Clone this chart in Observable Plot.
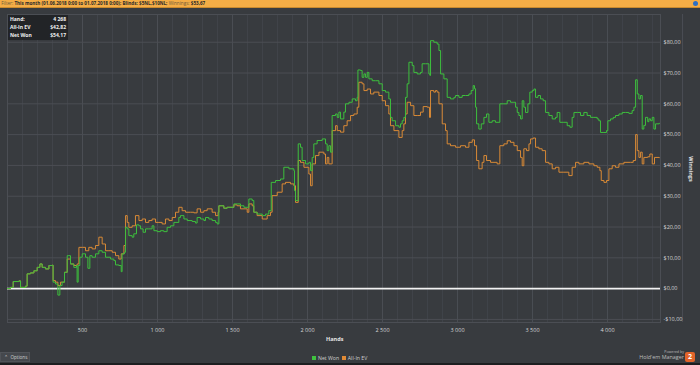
<!DOCTYPE html>
<html>
<head>
<meta charset="utf-8">
<script src="https://cdn.jsdelivr.net/npm/d3@7"></script>
<script src="https://cdn.jsdelivr.net/npm/@observablehq/plot@0.6"></script>
<style>
  html, body { margin: 0; padding: 0; background: #383b3f; }
  #wrap { position: relative; width: 700px; height: 365px; overflow: hidden; background: #383b3f; font-family: "Open Sans", "Liberation Sans", sans-serif; }
  #chart { position: absolute; left: 0; top: 0; }
  #header { position: absolute; left: 0; top: 0; width: 700px; height: 7px; background: #f4ad46; border-bottom: 1px solid #c98a2e; font-size: 4.6px; line-height: 7px; color: #2a2a2a; white-space: nowrap; }
  #header span.k { color: #6b5a3a; }
  #header b { font-weight: 700; }
  #hicon { position: absolute; right: 2px; top: 1px; width: 5px; height: 5px; border-radius: 50%; background: #2d6fc4; }
  #tip { position: absolute; left: 8px; top: 15px; width: 60px; height: 25px; background: #222427; font-size: 5px; font-weight: 700; color: #f0f0f0; }
  #tip div { position: absolute; left: 2px; right: 2px; height: 7px; line-height: 7px; }
  #tip span.v { position: absolute; right: 0; }
  .ax { position: absolute; font-size: 5.5px; font-weight: 700; color: #e6e6e6; white-space: nowrap; }
  #legend { position: absolute; top: 355px; left: 312px; font-size: 5.2px; color: #cfcfcf; white-space: nowrap; line-height: 6px; }
  #legend i { display: inline-block; width: 4px; height: 4px; margin-right: 2px; vertical-align: -0.3px; }
  #opts { position: absolute; left: 0; top: 352px; width: 30px; height: 10px; background: #45484d; border: 1px solid #505358; box-sizing: border-box; font-size: 4.6px; line-height: 8px; color: #cfcfcf; padding-left: 3px; white-space: nowrap; }
  #logo { position: absolute; right: 16px; top: 350px; text-align: right; color: #bdbdbd; white-space: nowrap; }
  #logo .p { font-size: 3.6px; line-height: 4px; }
  #logo .m { font-size: 5.4px; line-height: 7px; }
  #badge { position: absolute; right: 5px; top: 352px; width: 10px; height: 10px; border-radius: 2px; background: #e2642a; color: #fff; font-size: 7px; font-weight: 700; line-height: 10px; text-align: center; }
  #bottom { position: absolute; left: 0; top: 363px; width: 700px; height: 2px; background: #1d1e20; }
</style>
</head>
<body>
<div id="wrap">
  <div id="chart"></div>
  <div id="header">&nbsp;<span class="k">Filter:</span> <b>This month (01.06.2018 0:00 to 01.07.2018 0:00); Blinds: $5NL,$10NL;</b> <span class="k">Winnings:</span> <b>$53,67</b><div id="hicon"></div></div>
  <div id="tip">
    <div style="top:1px">Hand:<span class="v">4 268</span></div>
    <div style="top:9px">All-In EV<span class="v">$42,82</span></div>
    <div style="top:17px">Net Won<span class="v">$54,17</span></div>
  </div>
  <div class="ax" id="xlab" style="left:326px; top:335px;">Hands</div>
  <div class="ax" id="ylab" style="left:678px; top:165px; transform: rotate(90deg); transform-origin: center;">Winnings</div>
  <div id="legend"><i style="background:#3fc23f"></i>Net Won&nbsp;&nbsp;<i style="background:#e08a35"></i>All-In EV</div>
  <div id="opts">&#8963;&nbsp;&nbsp;Options</div>
  <div id="logo"><div class="p">Powered by</div><div class="m">Hold'em Manager</div></div>
  <div id="badge">2</div>
  <div id="bottom"></div>
</div>
<script>
// ---- Data ----
const netWonHands = [0,20,38,76,87,120,131,153,176,198,216,231,253,276,298,304,320,336,349,364,380,398,409,420,442,460,464,471,482,498,520,536,549,564,587,609,631,653,687,709,720,742,758,764,780,787,798,809,831,842,860,876,887,904,920,942,964,976,998,1020,1042,1064,1087,1109,1142,1153,1176,1198,1231,1253,1264,1287,1309,1320,1342,1364,1387,1398,1409,1442,1464,1509,1531,1553,1576,1609,1631,1642,1664,1698,1720,1742,1758,1787,1820,1842,1876,1909,1913,1920,1938,1953,1964,1987,2009,2020,2031,2042,2064,2098,2120,2131,2142,2153,2164,2187,2198,2209,2220,2242,2253,2276,2298,2320,2331,2336,2353,2364,2376,2387,2398,2409,2431,2453,2476,2498,2520,2542,2553,2564,2587,2609,2620,2631,2642,2653,2664,2676,2698,2709,2731,2753,2764,2787,2809,2816,2820,2842,2864,2876,2887,2909,2931,2953,2976,2987,3009,3031,3053,3076,3091,3104,3113,3120,3127,3142,3158,3176,3193,3209,3231,3253,3276,3282,3309,3331,3353,3376,3387,3398,3409,3420,3431,3442,3453,3469,3482,3498,3509,3520,3536,3553,3571,3587,3609,3631,3653,3664,3682,3709,3731,3749,3764,3776,3798,3820,3842,3864,3887,3909,3931,3942,3953,3976,3993,4002,4020,4038,4053,4076,4098,4120,4142,4164,4176,4187,4198,4209,4220,4231,4242,4253,4268,4276,4287,4298,4309,4320,4345];
const netWonValues = [0,0.4,2.3,2.5,0.4,0.8,4.8,5.1,5.8,6.9,8.0,6.9,6.4,7.5,7.6,2.1,1.5,-2.1,1.0,2.1,5.3,10.7,10.7,8.0,6.9,7.5,2.1,7.5,10.2,11.3,10.2,6.6,10.7,10.2,11.3,12.3,11.8,10.2,9.6,9.1,7.7,7.5,5.5,11.3,11.8,19.9,19.4,17.2,16.7,17.8,20.7,20.4,19.4,18.3,19.4,19.4,20.4,18.8,18.5,18.8,18.5,19.9,20.4,21.5,23.1,23.7,22.6,22.1,21.8,21.3,23.1,22.6,22.1,23.1,22.6,22.1,21.5,21.0,26.9,26.1,26.4,27.5,27.5,26.9,26.4,29.1,28.6,24.8,24.2,23.7,24.2,25.3,34.5,35.1,35.6,39.4,38.9,38.3,31.8,28.6,47.0,45.9,41.6,40.5,41.0,38.3,42.6,47.0,48.1,48.6,47.0,44.8,46.4,44.3,56.2,56.7,55.6,57.3,55.1,57.3,60.0,60.5,61.6,61.0,62.1,71.0,70.8,68.6,69.7,68.6,70.2,68.1,67.5,67.5,66.5,64.3,63.8,61.6,55.6,54.5,52.9,52.4,53.5,54.5,55.6,62.1,66.5,73.5,72.4,70.2,69.7,70.2,73.0,73.0,69.7,69.2,80.5,80.0,79.4,77.3,69.7,68.1,62.1,61.6,62.1,62.7,62.1,62.7,62.7,63.2,64.3,65.9,64.9,58.9,53.5,51.8,53.5,55.6,56.7,54.0,54.5,54.0,54.0,60.0,60.0,61.0,60.5,60.5,58.9,57.2,56.2,55.1,61.0,58.9,57.2,60.0,63.8,64.3,64.8,62.1,62.7,61.6,61.0,57.2,56.2,55.1,55.6,57.2,54.0,54.0,52.9,52.4,55.6,57.2,57.2,56.2,57.2,56.2,55.6,55.6,55.1,54.5,50.7,50.7,51.3,54.5,55.1,55.6,56.2,56.7,57.2,57.2,56.9,57.8,58.9,67.8,63.2,61.6,62.7,51.8,53.0,55.6,54.2,55.1,54.5,55.6,51.8,53.5,53.7];

const allInEVHands = [0,20,38,76,87,120,131,153,176,198,216,231,253,276,298,304,320,336,353,364,380,398,420,442,464,476,498,520,542,564,587,609,631,653,676,698,720,742,758,776,787,798,809,831,853,876,898,920,942,964,987,1009,1031,1053,1076,1098,1120,1142,1164,1187,1220,1242,1264,1287,1309,1331,1364,1387,1404,1409,1442,1464,1509,1531,1553,1598,1609,1631,1642,1664,1698,1731,1753,1764,1798,1831,1853,1887,1909,1920,1938,1953,1976,2009,2020,2031,2053,2076,2109,2120,2131,2142,2158,2164,2187,2198,2220,2242,2264,2287,2309,2331,2342,2364,2376,2398,2420,2442,2476,2498,2520,2542,2553,2576,2609,2631,2642,2653,2664,2687,2709,2731,2753,2771,2798,2813,2820,2842,2853,2864,2876,2898,2920,2931,2953,2987,3020,3053,3076,3098,3113,3127,3142,3164,3176,3193,3220,3264,3282,3309,3331,3353,3376,3398,3420,3431,3442,3460,3476,3487,3504,3520,3542,3564,3587,3609,3631,3653,3676,3709,3742,3764,3787,3809,3842,3876,3909,3931,3949,3958,3976,3993,4009,4031,4053,4076,4109,4153,4171,4187,4198,4209,4220,4231,4242,4268,4282,4298,4313,4345];
const allInEVValues = [0,0.4,2.3,2.5,0.4,0.8,4.8,5.1,5.8,6.9,8.0,6.9,6.4,7.5,7.6,2.6,2.1,1.0,2.1,2.1,5.3,9.6,8.0,7.5,8.0,13.4,13.4,12.3,13.4,12.9,14.0,16.7,14.5,12.3,12.3,11.8,10.7,9.6,11.3,14.0,23.7,21.5,19.9,20.4,23.7,22.1,22.6,21.5,22.1,22.6,21.5,21.5,21.0,22.6,22.1,23.1,24.8,26.4,25.3,24.8,24.8,24.6,25.9,24.8,25.3,25.9,24.8,23.7,24.8,26.9,26.1,26.4,27.2,26.9,25.9,24.8,27.5,26.9,24.8,23.7,22.6,23.7,24.8,30.2,31.3,34.0,34.5,34.0,33.4,28.0,41.6,41.0,39.4,37.2,33.4,40.5,43.2,44.3,43.7,40.5,42.6,40.5,40.5,51.3,52.9,51.3,50.8,52.9,54.5,56.2,56.7,58.9,67.0,66.5,64.3,64.8,63.2,63.8,62.7,61.0,59.4,56.7,52.9,51.3,49.1,51.3,53.5,56.7,60.5,59.4,56.2,56.2,57.3,59.1,58.9,55.6,64.3,63.8,64.3,63.8,60.0,53.5,51.3,47.0,46.4,45.9,46.4,45.9,47.5,48.3,46.4,41.6,38.9,41.0,43.2,41.6,41.0,40.5,46.4,47.0,48.0,47.5,46.4,44.8,42.6,39.9,45.4,44.8,47.0,48.6,48.9,45.9,45.4,44.8,41.0,40.5,38.9,39.4,37.8,37.8,36.7,39.4,41.0,40.5,41.0,40.5,39.9,39.4,38.3,35.1,34.5,35.1,38.9,39.9,39.4,40.5,41.0,41.0,41.6,50.0,44.8,42.6,44.3,40.5,42.6,42.8,43.7,40.5,42.6,42.5];

const xTicks = [500, 1000, 1500, 2000, 2500, 3000, 3500, 4000];
const yTicks = [-10, 0, 10, 20, 30, 40, 50, 60, 70, 80];

// ---- Build tables ----
const netWon = netWonHands.map((h, i) => ({hand: h, value: netWonValues[i]}));
const allInEV = allInEVHands.map((h, i) => ({hand: h, value: allInEVValues[i]}));
const majorX = d3.range(0, 4501, 500);
const minorX = d3.range(0, 4400, 100).filter(d => d % 500 !== 0);

const fmtX = d => d3.format(",")(d).replace(/,/g, " ");
const fmtY = v => (v < 0 ? "-" : "") + "$" + Math.abs(v).toFixed(2).replace(".", ",");

const chart = Plot.plot({
  width: 700,
  height: 365,
  marginTop: 14,
  marginBottom: 43,
  marginLeft: 7,
  marginRight: 40,
  style: { background: "transparent", color: "#d6d6d6", fontSize: "5.5px", fontFamily: "Open Sans, Liberation Sans, sans-serif" },
  x: { domain: [0, 4353] },
  y: { domain: [-11, 89] },
  marks: [
    Plot.ruleX(minorX, { stroke: "#41444a", strokeWidth: 1 }),
    Plot.ruleX(majorX, { stroke: "#4b4e54", strokeWidth: 1 }),
    Plot.ruleY(yTicks, { stroke: "#4b4e54", strokeWidth: 1 }),
    Plot.frame({ stroke: "#4b4e54" }),
    Plot.ruleY([0], { stroke: "#f2f2f2", strokeWidth: 1.6 }),
    Plot.line(allInEV, { x: "hand", y: "value", curve: "step-after", stroke: "#d98a36", strokeWidth: 1 }),
    Plot.line(netWon, { x: "hand", y: "value", curve: "step-after", stroke: "#3dbf3d", strokeWidth: 1 }),
    Plot.axisX(xTicks, { tickSize: 0, tickPadding: 6, tickFormat: fmtX, label: null }),
    Plot.axisY(yTicks, { anchor: "right", tickSize: 0, tickPadding: 3, tickFormat: fmtY, label: null })
  ]
});
document.getElementById("chart").appendChild(chart);
</script>
</body>
</html>
